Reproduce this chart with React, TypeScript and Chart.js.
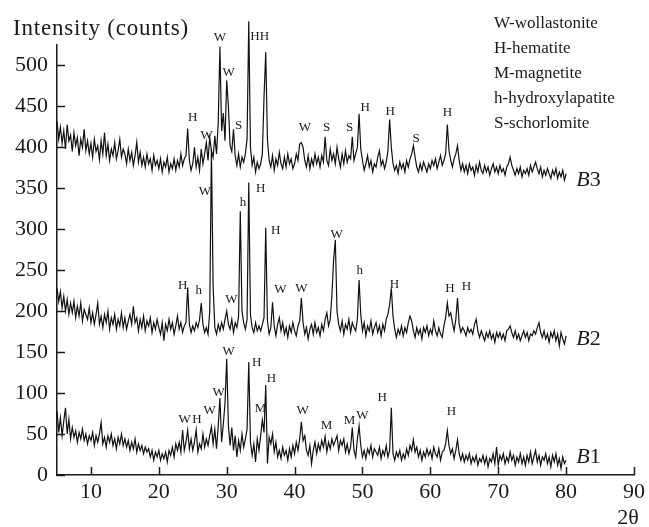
import { useEffect, useRef } from "react";
import { Chart, registerables } from "chart.js";

Chart.register(...registerables);

// 2θ grid of the patterns: START, START+STEP, ... 80
const START = 5;
const STEP = 0.25;

const X_TICKS = [10, 20, 30, 40, 50, 60, 70, 80, 90];
const Y_TICKS = [0, 50, 100, 150, 200, 250, 300, 350, 400, 450, 500];

// Intensity (counts) of sample B1, 5..80 deg, step 0.25
const B1 = [
  78, 52, 70, 48, 66, 82, 50, 68, 44, 58, 46, 54, 40, 52, 44, 56, 42, 50, 38, 48,
  42, 52, 36, 48, 40, 50, 64, 38, 46, 34, 48, 40, 50, 36, 44, 32, 46, 38, 50, 36,
  44, 34, 42, 30, 40, 32, 44, 28, 38, 30, 36, 26, 34, 28, 32, 22, 30, 18, 28, 22,
  30, 18, 26, 20, 28, 16, 30, 24, 34, 22, 38, 30, 40, 28, 55, 30, 40, 55, 32, 44,
  30, 40, 55, 28, 38, 32, 50, 34, 44, 36, 48, 59, 38, 56, 32, 60, 94, 40, 62, 88,
  142, 60, 36, 58, 30, 48, 22, 42, 30, 50, 34, 44, 56, 138, 40, 24, 38, 16, 44, 30,
  48, 67, 52, 110, 14, 46, 38, 50, 28, 40, 22, 30, 20, 34, 24, 30, 18, 32, 22, 36,
  26, 40, 30, 44, 65, 42, 48, 30, 24, 36, 14, 30, 40, 26, 38, 30, 42, 34, 47, 28,
  40, 32, 44, 36, 42, 48, 30, 42, 36, 44, 28, 38, 26, 34, 58, 30, 22, 44, 60, 36,
  22, 30, 20, 32, 26, 36, 22, 32, 28, 24, 34, 20, 30, 24, 36, 22, 30, 82, 26, 18,
  28, 22, 30, 18, 26, 20, 32, 24, 36, 30, 43, 28, 34, 22, 30, 18, 28, 22, 32, 24,
  30, 20, 34, 26, 22, 32, 18, 28, 30, 38, 54, 36, 26, 32, 20, 30, 43, 26, 18, 26,
  16, 24, 18, 26, 14, 22, 16, 24, 12, 20, 16, 24, 14, 22, 10, 20, 16, 26, 14, 34,
  12, 24, 18, 26, 14, 22, 16, 28, 18, 24, 12, 22, 16, 26, 14, 22, 12, 24, 16, 28,
  14, 22, 30, 16, 24, 12, 22, 18, 26, 14, 22, 10, 24, 16, 26, 12, 20, 8, 22, 14,
  18,
];

// Intensity (counts) of sample B2
const B2 = [
  228, 212, 224, 204, 218, 200, 214, 196, 210, 198, 212, 192, 206, 194, 210, 188, 202, 196, 190, 204,
  186, 198, 184, 196, 210, 184, 194, 180, 196, 186, 200, 178, 192, 184, 196, 178, 190, 182, 198, 180,
  192, 178, 188, 196, 184, 206, 186, 192, 176, 190, 180, 194, 176, 188, 182, 192, 174, 186, 178, 190,
  180, 172, 186, 164, 184, 176, 190, 178, 186, 172, 182, 194, 178, 186, 174, 182, 186, 229, 184, 174,
  182, 176, 186, 180, 190, 210, 184, 174, 180, 172, 200, 398, 230, 180, 172, 184, 176, 186, 178, 190,
  200, 184, 178, 190, 174, 186, 180, 194, 322, 200, 186, 178, 190, 357, 196, 180, 174, 186, 176, 182,
  176, 184, 192, 302, 188, 172, 180, 211, 182, 170, 184, 192, 176, 186, 172, 180, 168, 182, 174, 186,
  176, 170, 182, 188, 216, 186, 172, 180, 166, 178, 184, 172, 186, 174, 180, 170, 184, 176, 190, 198,
  182, 190, 220, 263, 287, 200, 184, 176, 188, 172, 184, 178, 190, 174, 186, 180, 176, 190, 238, 196,
  176, 186, 170, 182, 176, 188, 172, 180, 186, 174, 182, 170, 184, 176, 190, 196, 208, 228, 194, 178,
  168, 178, 172, 182, 170, 180, 174, 186, 194, 188, 176, 168, 180, 172, 178, 166, 180, 174, 182, 170,
  178, 172, 188, 176, 170, 180, 172, 168, 182, 192, 210, 194, 198, 186, 176, 190, 216, 184, 174, 180,
  176, 170, 180, 174, 178, 172, 184, 190, 176, 168, 176, 170, 164, 174, 168, 176, 166, 172, 162, 174,
  168, 174, 166, 172, 164, 176, 178, 182, 174, 168, 176, 166, 172, 164, 170, 176, 168, 174, 164, 172,
  170, 176, 172, 180, 186, 174, 168, 176, 166, 172, 162, 174, 168, 176, 164, 172, 158, 174, 166, 160,
  170,
];

// Intensity (counts) of sample B3
const B3 = [
  432, 410, 425, 405, 420, 398, 428, 408, 415, 395, 418, 402, 412, 390, 410, 400, 422, 396, 408, 392,
  405, 388, 410, 395, 402, 385, 408, 392, 418, 390, 404, 384, 398, 390, 406, 386, 396, 410, 388, 398,
  392, 380, 398, 384, 394, 378, 390, 406, 382, 394, 378, 388, 376, 392, 380, 386, 372, 390, 378, 384,
  374, 386, 370, 382, 376, 388, 370, 380, 374, 386, 372, 384, 376, 392, 378, 386, 390, 423, 384, 372,
  380, 400, 376, 388, 372, 398, 380, 392, 406, 384, 412, 396, 388, 414, 392, 430, 523, 420, 442, 408,
  482, 450, 402, 395, 422, 390, 378, 392, 376, 388, 382, 392, 410, 554, 400, 378, 388, 370, 382, 374,
  380, 392, 462, 516, 410, 384, 376, 390, 372, 386, 378, 394, 380, 374, 388, 376, 392, 380, 386, 374,
  380, 392, 384, 404, 406, 400, 384, 376, 390, 374, 386, 378, 392, 380, 388, 376, 390, 382, 413, 384,
  378, 398, 384, 392, 380, 400, 386, 376, 392, 380, 396, 382, 390, 386, 413, 384, 392, 400, 441, 398,
  384, 372, 380, 390, 376, 384, 370, 380, 376, 388, 396, 378, 384, 374, 382, 396, 434, 400, 380, 372,
  378, 368, 382, 374, 380, 370, 384, 376, 386, 392, 402, 388, 376, 370, 380, 372, 382, 376, 370, 380,
  374, 384, 378, 386, 374, 382, 390, 378, 384, 392, 428, 396, 384, 376, 386, 392, 402, 384, 372, 380,
  370, 378, 368, 380, 372, 376, 366, 378, 370, 382, 372, 368, 378, 370, 376, 366, 374, 380, 370, 376,
  368, 378, 370, 374, 366, 376, 380, 388, 378, 372, 366, 374, 368, 376, 364, 372, 368, 374, 366, 378,
  370, 376, 382, 374, 368, 376, 364, 372, 366, 374, 368, 362, 372, 366, 374, 362, 370, 364, 372, 360,
  368,
];

const SERIES = [B1, B2, B3];
const SERIES_NUM = ["1", "2", "3"];
// label anchor (2θ, intensity) for the curve names
const SERIES_LABEL_X = [81.5, 81.5, 81.5];
const SERIES_LABEL_Y = [22, 166, 360];

const LEGEND = ["W-wollastonite", "H-hematite", "M-magnetite", "h-hydroxylapatite", "S-schorlomite"];

// phase markers: [2θ, intensity, letter]
const PEAK_LABELS: [number, number, string][] = [
  // B3
  [29.0, 534, "W"], [34.85, 535, "HH"], [30.3, 491, "W"], [25.0, 436, "H"], [27.06, 415, "W"],
  [31.76, 427, "S"], [41.5, 424, "W"], [44.7, 424, "S"], [48.1, 424, "S"], [50.4, 449, "H"],
  [54.1, 444, "H"], [57.9, 411, "S"], [62.5, 443, "H"],
  // B2
  [26.8, 346, "W"], [32.4, 333, "h"], [35.0, 350, "H"], [37.2, 298, "H"], [23.5, 231, "H"],
  [25.9, 225, "h"], [30.7, 214, "W"], [37.9, 226, "W"], [41.0, 228, "W"], [46.2, 293, "W"],
  [49.6, 249, "h"], [54.7, 233, "H"], [62.9, 228, "H"], [65.3, 230, "H"],
  // B1
  [30.3, 151, "W"], [34.4, 137, "H"], [36.6, 118, "H"], [28.8, 101, "W"], [27.5, 79, "W"],
  [35.0, 81, "M"], [23.8, 68, "W"], [25.6, 68, "H"], [41.2, 79, "W"], [44.7, 60, "M"],
  [48.1, 67, "M"], [50.0, 72, "W"], [52.9, 95, "H"], [63.1, 77, "H"],
];

const SERIF = "'Liberation Serif', 'Times New Roman', serif";
const INK = "#1a1a1a";

function toPoints(arr: number[]) {
  return arr.map((y, i) => ({ x: START + i * STEP, y }));
}

const overlay = {
  id: "overlay",
  afterDraw(chart: any) {
    const ctx = chart.ctx as CanvasRenderingContext2D;
    const xs = chart.scales.x;
    const ys = chart.scales.y;
    const a = chart.chartArea;
    ctx.save();
    ctx.strokeStyle = INK;
    ctx.lineWidth = 1.5;
    for (const v of Y_TICKS) {
      const y = Math.round(ys.getPixelForValue(v)) + 0.5;
      ctx.beginPath();
      ctx.moveTo(a.left, y);
      ctx.lineTo(a.left + 8, y);
      ctx.stroke();
    }
    for (const v of X_TICKS) {
      const x = Math.round(xs.getPixelForValue(v)) + 0.5;
      ctx.beginPath();
      ctx.moveTo(x, a.bottom);
      ctx.lineTo(x, a.bottom - 8);
      ctx.stroke();
    }

    ctx.fillStyle = INK;
    ctx.font = `13px ${SERIF}`;
    ctx.textAlign = "center";
    ctx.textBaseline = "middle";
    for (const [px, py, t] of PEAK_LABELS) {
      ctx.fillText(t, xs.getPixelForValue(px), ys.getPixelForValue(py));
    }

    ctx.textAlign = "left";
    for (let i = 0; i < SERIES.length; i++) {
      const x = xs.getPixelForValue(SERIES_LABEL_X[i]);
      const y = ys.getPixelForValue(SERIES_LABEL_Y[i]);
      ctx.font = `italic 22px ${SERIF}`;
      ctx.fillText("B", x, y);
      const w = ctx.measureText("B").width;
      ctx.font = `22px ${SERIF}`;
      ctx.fillText(SERIES_NUM[i], x + w, y);
    }

    ctx.textBaseline = "alphabetic";
    ctx.font = `17px ${SERIF}`;
    LEGEND.forEach((t, i) => {
      ctx.fillText(t, a.right - 140, 28 + i * 25);
    });

    ctx.font = `23px ${SERIF}`;
    (ctx as any).letterSpacing = "0.8px";
    ctx.fillText("Intensity (counts)", a.left - 44, a.top - 10);
    (ctx as any).letterSpacing = "0px";

    ctx.textAlign = "center";
    ctx.textBaseline = "middle";
    ctx.font = `22px ${SERIF}`;
    ctx.fillText("2θ", xs.getPixelForValue(90) - 6, a.bottom + 43);
    ctx.restore();
  },
};

export default function App() {
  const ref = useRef<HTMLCanvasElement | null>(null);
  useEffect(() => {
    if (!ref.current) return;
    const chart = new Chart(ref.current, {
      type: "line",
      data: {
        datasets: SERIES.map((s, i) => ({
          label: "B" + SERIES_NUM[i],
          data: toPoints(s),
          borderColor: "#111",
          borderWidth: 1.2,
          pointRadius: 0,
          tension: 0,
          fill: false,
          clip: false as any,
        })),
      },
      options: {
        animation: false,
        responsive: false,
        devicePixelRatio: 1,
        layout: { padding: { top: 45, right: 14, left: 0, bottom: 0 } },
        plugins: { legend: { display: false }, tooltip: { enabled: false } },
        scales: {
          x: {
            type: "linear",
            min: 5,
            max: 90,
            grid: { display: false, drawTicks: false },
            border: { display: true, color: INK, width: 1.5 },
            ticks: { color: INK, font: { family: SERIF, size: 22 }, padding: 4, autoSkip: false, maxRotation: 0 },
            afterBuildTicks: (s: any) => { s.ticks = X_TICKS.map((v) => ({ value: v })); },
            afterFit: (s: any) => { s.height = 52; },
          },
          y: {
            type: "linear",
            min: 0,
            max: 525,
            grid: { display: false, drawTicks: false },
            border: { display: true, color: INK, width: 1.5 },
            ticks: { color: INK, font: { family: SERIF, size: 22 }, padding: 9, autoSkip: false },
            afterBuildTicks: (s: any) => { s.ticks = Y_TICKS.map((v) => ({ value: v })); },
            afterFit: (s: any) => { s.width = 57; },
          },
        },
      },
      plugins: [overlay],
    });
    return () => chart.destroy();
  }, []);
  return (
    <div style={{ position: "fixed", left: 0, top: 0, width: 649, height: 527, background: "#fff" }}>
      <canvas ref={ref} width={649} height={527} style={{ display: "block" }} />
    </div>
  );
}
